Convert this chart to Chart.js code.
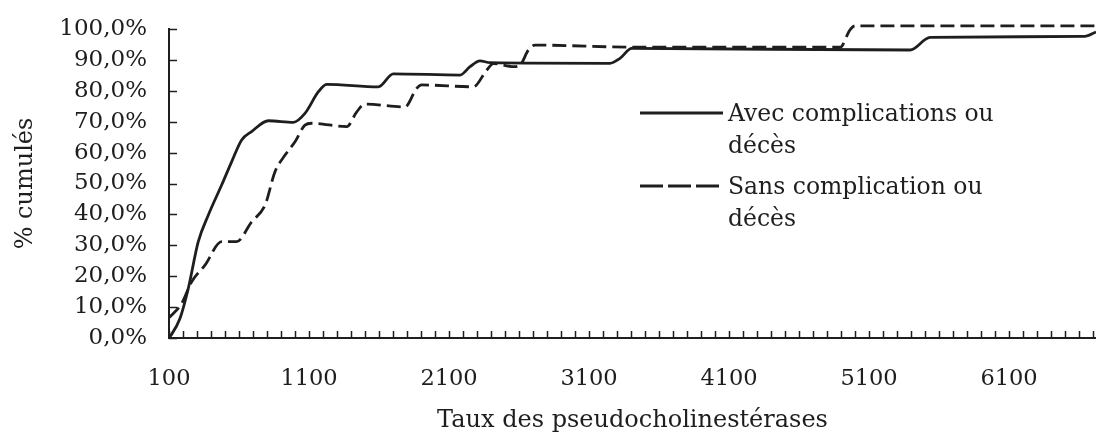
<!DOCTYPE html>
<html lang="fr">
<head>
  <meta charset="UTF-8" />
  <title>Taux des pseudocholinestérases - % cumulés</title>
  <script src="https://cdn.jsdelivr.net/npm/chart.js"></script>
  <style>
    body { margin: 0; background: #fff; }
    .wrap { width: 1096px; height: 439px; position: relative; }
  </style>
</head>
<body>
  <div class="wrap"><canvas id="cumChart"></canvas></div>
  <script>
    // values
    const avecX = [100, 107, 179, 238, 309, 381, 476, 548, 619, 690, 810, 988, 1071, 1167, 1226, 1595, 1702, 2179, 2250, 2321, 2393, 3250, 3321, 3405, 5393, 5536, 6640, 6721];
    const avecY = [0, 0.4, 6.4, 16.1, 31.2, 39.8, 49.5, 57.1, 64.1, 66.8, 70.3, 69.8, 72.7, 79.7, 82.1, 81.3, 85.5, 85.1, 87.8, 89.7, 89.1, 88.9, 90.5, 93.7, 93.2, 97.3, 97.6, 99];
    const sansX = [100, 107, 191, 262, 357, 476, 583, 690, 786, 857, 929, 1000, 1071, 1119, 1369, 1441, 1500, 1786, 1869, 1905, 2274, 2369, 2417, 2560, 2607, 2667, 2714, 3441, 4893, 4964, 5000, 6721];
    const sansY = [6.6, 6.9, 11.2, 18.2, 23.6, 31.2, 31.2, 37.6, 43, 53.8, 59.2, 63.5, 68.9, 69.5, 68.4, 73.2, 75.7, 74.8, 80.8, 81.9, 81.3, 86.7, 88.8, 87.8, 88.3, 93.2, 94.8, 94.1, 94.1, 99.7, 101, 101];
    const seriesNames = [["Avec complications ou", "décès"], ["Sans complication ou", "décès"]];
    const xLabelTicks = [100, 1100, 2100, 3100, 4100, 5100, 6100];
    const xRange = [100, 6721];
    const yRange = [0, 100];

    const ink = "#1e1e1e";
    const serif = "'DejaVu Serif', 'Liberation Serif', serif";

    const toPoints = (xs, ys) => xs.map((x, i) => ({ x: x, y: ys[i] }));

    // inward tick marks + two-line legend
    const decorations = {
      id: "decorations",
      afterDraw(chart) {
        const ctx = chart.ctx;
        const xs = chart.scales.x, ys = chart.scales.y;
        const area = chart.chartArea;
        ctx.save();
        ctx.strokeStyle = ink;
        ctx.lineWidth = 1.5;
        ctx.beginPath();
        xs.ticks.forEach(t => {
          const px = Math.round(xs.getPixelForValue(t.value)) + 0.5;
          ctx.moveTo(px, area.bottom);
          ctx.lineTo(px, area.bottom - 7);
        });
        ys.ticks.forEach(t => {
          const py = Math.round(ys.getPixelForValue(t.value)) + 0.5;
          ctx.moveTo(area.left, py);
          ctx.lineTo(area.left + 8, py);
        });
        ctx.stroke();

        // legend
        const rows = [113, 186];
        ctx.font = "23.5px " + serif;
        ctx.fillStyle = ink;
        ctx.textBaseline = "middle";
        chart.data.datasets.forEach((ds, i) => {
          const y = rows[i];
          ctx.beginPath();
          ctx.lineWidth = 2.8;
          ctx.setLineDash(i === 1 ? [23, 5] : []);
          ctx.moveTo(640, y);
          ctx.lineTo(723, y);
          ctx.stroke();
          ctx.setLineDash([]);
          seriesNames[i].forEach((line, j) => {
            ctx.fillText(line, 728, y + 2 + j * 32);
          });
        });
        ctx.restore();
      }
    };

    new Chart(document.getElementById("cumChart"), {
      type: "line",
      data: {
        datasets: [
          {
            label: seriesNames[0].join(" "),
            data: toPoints(avecX, avecY),
            borderColor: ink,
            borderWidth: 2.8,
            pointRadius: 0,
            cubicInterpolationMode: "monotone",
            clip: false
          },
          {
            label: seriesNames[1].join(" "),
            data: toPoints(sansX, sansY),
            borderColor: ink,
            borderWidth: 2.8,
            borderDash: [14, 6],
            pointRadius: 0,
            cubicInterpolationMode: "monotone",
            clip: false
          }
        ]
      },
      options: {
        responsive: true,
        maintainAspectRatio: false,
        animation: false,
        devicePixelRatio: 1,
        layout: { padding: { top: 29, right: 0, left: 0, bottom: 0 } },
        plugins: {
          legend: { display: false },
          tooltip: { enabled: false }
        },
        scales: {
          x: {
            type: "linear",
            min: xRange[0],
            max: xRange[1],
            grid: { display: false },
            border: { display: true, color: ink, width: 2 },
            ticks: {
              stepSize: 100,
              autoSkip: false,
              includeBounds: false,
              maxRotation: 0,
              padding: 20,
              color: ink,
              font: { family: serif, size: 22.5 },
              callback: v => xLabelTicks.includes(v) ? String(v) : ""
            },
            title: {
              display: true,
              text: "Taux des pseudocholinestérases",
              color: ink,
              font: { family: serif, size: 24, lineHeight: 1.2 },
              padding: { top: 0, bottom: 4 }
            },
            afterFit(s) {
              s.height = 101;
              s.paddingLeft = 0;
              s.paddingRight = 0;
            }
          },
          y: {
            min: yRange[0],
            max: yRange[1],
            grid: { display: false, drawTicks: false },
            border: { display: true, color: ink, width: 2 },
            ticks: {
              stepSize: 10,
              padding: 22,
              color: ink,
              font: { family: serif, size: 23 },
              callback: v => v.toFixed(1).replace(".", ",") + "%"
            },
            title: {
              display: true,
              text: "% cumulés",
              color: ink,
              font: { family: serif, size: 24, lineHeight: 1.2 },
              padding: { top: 11, bottom: 0 }
            },
            afterFit(s) {
              s.width = 169;
              s.paddingTop = 0;
              s.paddingBottom = 0;
            }
          }
        }
      },
      plugins: [decorations]
    });
  </script>
</body>
</html>
